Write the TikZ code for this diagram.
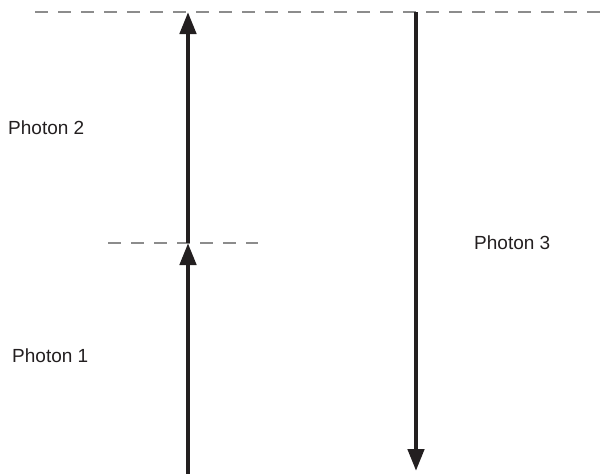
\documentclass[tikz,border=0pt]{standalone}
\usepackage{fontspec}
\setmainfont{Liberation Sans}
\usetikzlibrary{arrows.meta}
\definecolor{ink}{HTML}{231F20}
\definecolor{dashgray}{HTML}{8C8C8C}
\begin{document}
\begin{tikzpicture}[x=1pt,y=-1pt,
  photon/.style={draw=ink,line width=4.5pt,-{Triangle[length=22pt,width=16pt]}},
  level/.style={draw=dashgray,line width=1.2pt,dash pattern=on 13pt off 10pt},
  lbl/.style={font=\fontsize{19}{22}\selectfont,text=ink,inner sep=0pt,anchor=west}]
\useasboundingbox (0,0) rectangle (608,474);
\coordinate (topL) at (35,12);
\coordinate (topR) at (608,12);
\coordinate (midL) at (108,243);
\coordinate (midR) at (258,243);
\coordinate (b1) at (188,476);
\coordinate (m1) at (188,243);
\coordinate (t1) at (188,12);
\coordinate (t3) at (416,12);
\coordinate (b3) at (416,471);
\draw[level] (topL) -- (topR);
\draw[level] (midL) -- (midR);
\draw[photon] (b1) -- (m1);
\draw[photon] (m1) -- (t1);
\draw[photon] (t3) -- (b3);
\node[lbl] (p2) at (8,128) {Photon 2};
\node[lbl] (p1) at (12,356) {Photon 1};
\node[lbl] (p3) at (474,243) {Photon 3};
\end{tikzpicture}
\end{document}
